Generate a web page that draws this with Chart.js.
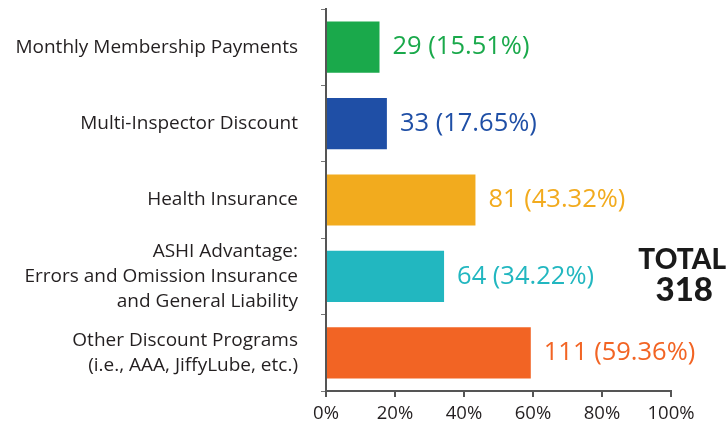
<!DOCTYPE html>
<html>
<head>
<meta charset="utf-8">
<script src="https://cdn.jsdelivr.net/npm/chart.js@4"></script>
<style>
  html, body { margin: 0; padding: 0; background: #fff; }
  #wrap { position: relative; width: 728px; height: 429px; }
</style>
</head>
<body>
<div id="wrap"><canvas id="chart" width="728" height="429"></canvas></div>
<script>
const categories = [
  "Monthly Membership Payments",
  "Multi-Inspector Discount",
  "Health Insurance",
  ["ASHI Advantage:", "Errors and Omission Insurance", "and General Liability"],
  ["Other Discount Programs", "(i.e., AAA, JiffyLube, etc.)"]
];
const counts = [29, 33, 81, 64, 111];
const percents = [15.51, 17.65, 43.32, 34.22, 59.36];
const barColors = ["#1aa94b", "#1f4fa6", "#f2ab1e", "#22b7c0", "#f26424"];
const xTicks = [0, 20, 40, 60, 80, 100];
const total = 318;

const FONT = "'Open Sans', Lato, sans-serif";

// value labels next to each bar + the total on the right
const labelPlugin = {
  id: "labels",
  afterDatasetsDraw(chart) {
    const ctx = chart.ctx;
    const meta = chart.getDatasetMeta(0);
    ctx.save();
    ctx.font = "25.5px " + FONT;
    ctx.textBaseline = "middle";
    ctx.textAlign = "left";
    meta.data.forEach((bar, i) => {
      ctx.fillStyle = barColors[i];
      ctx.fillText(counts[i] + " (" + percents[i].toFixed(2) + "%)", bar.x + 13, bar.y);
    });
    ctx.fillStyle = "#1a1a1a";
    ctx.textAlign = "right";
    ctx.font = "900 28px Lato, sans-serif";
    ctx.fillText("TOTAL", 726, 260);
    ctx.font = "900 33px Lato, sans-serif";
    ctx.fillText(String(total), 713, 290);
    ctx.restore();
  }
};

new Chart(document.getElementById("chart"), {
  type: "bar",
  data: {
    labels: categories,
    datasets: [{
      data: percents,
      backgroundColor: barColors,
      categoryPercentage: 0.67,
      barPercentage: 1
    }]
  },
  options: {
    indexAxis: "y",
    responsive: false,
    animation: false,
    layout: { padding: { top: 9, right: 57, left: 0, bottom: 0 } },
    plugins: {
      legend: { display: false },
      tooltip: { enabled: false }
    },
    scales: {
      x: {
        min: 0,
        max: 100,
        afterBuildTicks(scale) {
          scale.ticks = xTicks.map(v => ({ value: v }));
        },
        afterFit(scale) { scale.height = 38; scale.paddingLeft = 0; scale.paddingRight = 0; },
        border: { display: true, color: "#555", width: 2 },
        grid: { drawOnChartArea: false, tickLength: 6, color: "#555", lineWidth: 2 },
        ticks: {
          color: "#231f20",
          font: { family: FONT, size: 18.5 },
          padding: 6,
          callback: v => v + "%"
        }
      },
      y: {
        afterFit(scale) { scale.width = 326; scale.paddingTop = 0; scale.paddingBottom = 0; },
        border: { display: true, color: "#555", width: 2 },
        grid: { drawOnChartArea: false, tickLength: 5, color: "#777", offset: true },
        ticks: {
          autoSkip: false,
          color: "#231f20",
          font: { family: FONT, size: 19, lineHeight: 1.33 },
          padding: 23
        }
      }
    }
  },
  plugins: [labelPlugin]
});
</script>
</body>
</html>
